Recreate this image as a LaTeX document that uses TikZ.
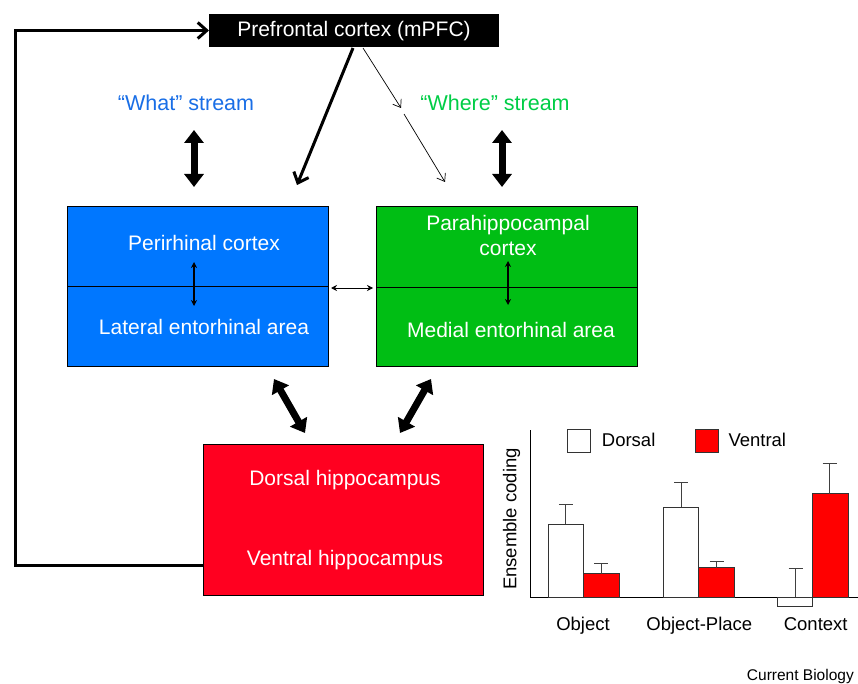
\documentclass[tikz,border=0pt]{standalone}
\usepackage{fontspec}
\setmainfont{Liberation Sans}
\usetikzlibrary{arrows.meta,calc}
\definecolor{boxblue}{RGB}{0,119,255}
\definecolor{boxgreen}{RGB}{0,190,20}
\definecolor{boxred}{RGB}{255,0,32}
\definecolor{whatblue}{RGB}{25,110,230}
\definecolor{wheregreen}{RGB}{0,205,70}
\definecolor{barred}{RGB}{255,0,0}
\tikzset{
  region/.style={draw=black,line width=0.8pt,inner sep=0,outer sep=0},
  wtext/.style={text=white,font=\fontsize{21}{25}\selectfont,align=center,inner sep=0},
  blockarrow/.style={line width=7pt,{Triangle[width=19pt,length=13pt]}-{Triangle[width=19pt,length=13pt]},shorten <=0pt,shorten >=0pt},
  thickarrow/.style={line width=3pt,-{Straight Barb[length=9pt,width=16pt,line width=3pt]}},
  thinarrow/.style={line width=0.7pt,-{Straight Barb[length=7pt,width=10pt,line width=0.7pt]}},
  smalldbl/.style={line width=1.2pt,{Stealth[length=6pt,width=6pt]}-{Stealth[length=6pt,width=6pt]}},
  chartlabel/.style={font=\fontsize{18.5}{22}\selectfont,inner sep=0},
  bar/.style={draw=black!80,line width=0.8pt},
  errbar/.style={draw=black!75,line width=0.8pt}
}
\begin{document}
\begin{tikzpicture}[x=1pt,y=-1pt]
\useasboundingbox (0,0) rectangle (858,684);
% prefrontal
\node[fill=black,minimum width=290pt,minimum height=33pt,inner sep=0,outer sep=0] (mpfc) at (354,30.5) {};
\node[wtext] (mpfctext) at ($(mpfc.center)+(0,1)$) {Prefrontal cortex (mPFC)};
% stream labels
\node[text=whatblue,font=\fontsize{21.5}{25}\selectfont,inner sep=0] (what) at (186,103) {``What'' stream};
\node[text=wheregreen,font=\fontsize{21.5}{25}\selectfont,inner sep=0] (where) at (495,103) {``Where'' stream};
% boxes
\node[region,fill=boxblue,minimum width=261pt,minimum height=160pt] (blue) at (197.5,286) {};
\node[region,fill=boxgreen,minimum width=261pt,minimum height=160pt] (green) at (506.5,286) {};
\node[region,fill=boxred,minimum width=280pt,minimum height=151pt] (red) at (343,519.5) {};
\draw[line width=0.8pt] (blue.west) -- (blue.east);
\draw[line width=0.8pt] ($(green.west)+(0,1)$) -- ($(green.east)+(0,1)$);
\node[wtext] (peri) at (204,243) {Perirhinal cortex};
\node[wtext] (lat) at (204,327) {Lateral entorhinal area};
\node[wtext] (para) at (508,235) {Parahippocampal\\cortex};
\node[wtext] (med) at (511,330) {Medial entorhinal area};
\node[wtext] (dors) at (345,480) {Dorsal hippocampus};
\node[wtext] (vent) at (345,560) {Ventral hippocampus};
% coordinates for arrow ends
\coordinate (wa1) at (194,130); \coordinate (wa2) at (194,187);
\coordinate (wb1) at (502,130); \coordinate (wb2) at (502,187);
\coordinate (pfc1) at (353,48); \coordinate (pfc1e) at (297,185);
\coordinate (pfc2) at (363,48); \coordinate (pfc2m) at (401,108);
\coordinate (pfc2s) at (404,114); \coordinate (pfc2e) at (445,182);
\coordinate (sa1) at (194,262); \coordinate (sa2) at (194,306);
\coordinate (sb1) at (508,261); \coordinate (sb2) at (508,305);
\coordinate (h1) at (331,288); \coordinate (h2) at (373,288);
\coordinate (d1a) at (274,379); \coordinate (d1b) at (305,433);
\coordinate (d2a) at (431,379); \coordinate (d2b) at (400,433);
\coordinate (loopstart) at (203,565);
% arrows
\draw[blockarrow] (wa1) -- (wa2);
\draw[blockarrow] (wb1) -- (wb2);
\draw[blockarrow] (d1a) -- (d1b);
\draw[blockarrow] (d2a) -- (d2b);
\draw[thickarrow] (pfc1) -- (pfc1e);
\draw[thinarrow] (pfc2) -- (pfc2m);
\draw[thinarrow] (pfc2s) -- (pfc2e);
\draw[smalldbl] (sa1) -- (sa2);
\draw[smalldbl] (sb1) -- (sb2);
\draw[line width=0.8pt,{Stealth[length=6pt,width=6pt]}-{Stealth[length=6pt,width=6pt]}] (h1) -- (h2);
\draw[thickarrow] (loopstart) -- ++(-188,0) |- (mpfc.west);
% chart
\draw[line width=1pt] (530,430) -- (530,597.3) -- (858,597.3);
\draw[bar,fill=white] (548.3,597.3) rectangle (583.3,524.3);
\draw[bar,fill=barred] (583.3,597.3) rectangle (619.3,573.7);
\draw[bar,fill=white] (663.7,597.3) rectangle (698.7,507.3);
\draw[bar,fill=barred] (698.7,597.3) rectangle (734.3,567.7);
\draw[bar,fill=white] (777.3,597.3) rectangle (812.7,606.3);
\draw[bar,fill=barred] (812.7,597.3) rectangle (848.3,493.7);
\draw[errbar] (565.8,524.3) -- (565.8,504.3) (558.8,504.3) -- (572.8,504.3);
\draw[errbar] (601.3,573.7) -- (601.3,563) (594.3,563) -- (608.3,563);
\draw[errbar] (681.2,507.3) -- (681.2,482) (674.2,482) -- (688.2,482);
\draw[errbar] (716.5,567.7) -- (716.5,561.7) (709.5,561.7) -- (723.5,561.7);
\draw[errbar] (795.7,597.3) -- (795.7,568.3) (788.7,568.3) -- (802.7,568.3);
\draw[errbar] (829.7,493.7) -- (829.7,463.7) (822.7,463.7) -- (836.7,463.7);
\draw[bar,fill=white] (567.3,429.3) rectangle (590.7,452.3);
\draw[bar,fill=barred] (695,429.3) rectangle (718.3,452.3);
\node[chartlabel,anchor=base west] (ldors) at (601.7,446) {Dorsal};
\node[chartlabel,anchor=base west] (lvent) at (728.3,446) {Ventral};
\node[chartlabel,rotate=90] (ylab) at (511.7,519) {Ensemble coding};
\node[chartlabel,anchor=base] (xobj) at (583,630) {Object};
\node[chartlabel,anchor=base] (xop) at (699.3,630) {Object-Place};
\node[chartlabel,anchor=base] (xctx) at (815.7,630) {Context};
\node[font=\fontsize{15.5}{18}\selectfont,anchor=east,inner sep=0] (cb) at (854,676) {Current Biology};
\end{tikzpicture}
\end{document}
